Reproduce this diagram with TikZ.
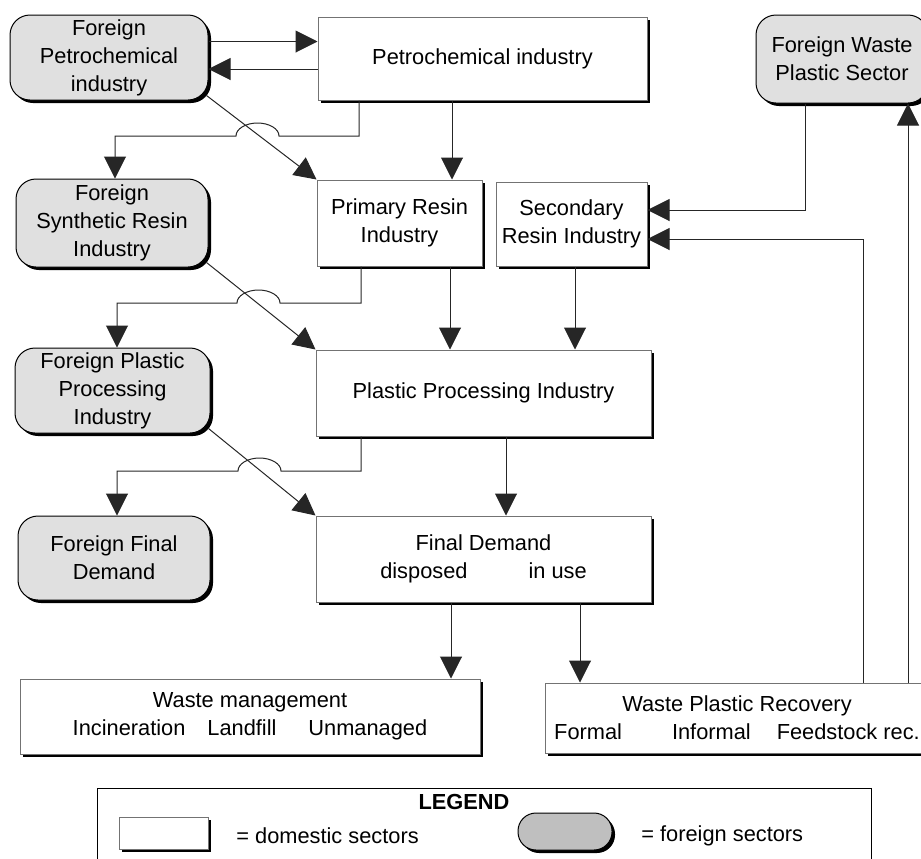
\documentclass[tikz,border=0pt]{standalone}
\usepackage{fontspec}
\setmainfont{Liberation Sans}
\usetikzlibrary{arrows.meta,shadows}

\tikzset{
  dom/.style={draw=black!55, fill=white, line width=0.5pt, align=center, inner sep=0pt,
    drop shadow={shadow xshift=1.5pt, shadow yshift=-1.5pt, fill=black, opacity=1}},
  frn/.style={dom, draw=black, fill=black!12, rounded corners=10pt},
  arr/.style={-{Triangle[length=11pt,width=11pt]}, line width=0.5pt, black!85},
}

\begin{document}
\begin{tikzpicture}[x=0.5pt, y=-0.5pt, every node/.style={font=\fontsize{10.9}{14}\selectfont}]
      \useasboundingbox (0,0) rectangle (921,858);
      % sectors
      \node[frn, minimum width=99pt, minimum height=42.5pt] (fpet) at (109,57.5) {Foreign\\Petrochemical\\industry};
      \node[dom, minimum width=164.5pt, minimum height=41.5pt] (pet) at (482.5,58.5) {Petrochemical industry};
      \node[frn, minimum width=86pt, minimum height=44pt] (fwaste) at (842,59) {Foreign Waste\\Plastic Sector};
      \node[frn, minimum width=96pt, minimum height=44pt] (fres) at (112,223) {Foreign\\Synthetic Resin\\Industry};
      \node[dom, minimum width=82.5pt, minimum height=43pt] (prim) at (399.5,223) {Primary Resin\\Industry};
      \node[dom, minimum width=75.5pt, minimum height=42pt] (sec) at (571.5,224) {Secondary\\Resin Industry};
      \node[frn, minimum width=97.5pt, minimum height=42.5pt] (fproc) at (112.5,390.5) {Foreign Plastic\\Processing\\Industry};
      \node[dom, minimum width=167.5pt, minimum height=43pt] (proc) at (483.5,393) {Plastic Processing Industry};
      \node[frn, minimum width=96pt, minimum height=42pt] (ffin) at (114,558) {Foreign Final\\Demand};
      \node[dom, minimum width=167.5pt, minimum height=43pt] (fin) at (483.5,559) {Final Demand\\disposed\hspace{30.5pt}in use};
      \node[dom, minimum width=230pt, minimum height=37.5pt] (wm) at (250,716.5) {Waste management\\Incineration\hspace{11pt}Landfill\hspace{16pt}Unmanaged};
      \node[dom, minimum width=192pt, minimum height=35pt] (wpr) at (737,718) {Waste Plastic Recovery\\Formal\hspace{25pt}Informal\hspace{13pt}Feedstock rec.};
      % hops
      \coordinate (hopA) at (257.5,136);
      \coordinate (hopB) at (258.5,303);
      \coordinate (hopC) at (259.5,471);
      % flows
      \draw[arr] ([yshift=8pt]fpet.east) coordinate (t1) -- (t1 -| pet.west);
      \draw[arr] ([yshift=-5.25pt]pet.west) coordinate (t2) -- (t2 -| fpet.east);
      \draw[arr] ([xshift=-61.75pt]pet.south) |- ([xshift=10.75pt]hopA)
        arc[start angle=0, end angle=180, x radius=10.75pt, y radius=6.5pt] -| ([xshift=1.5pt]fres.north);
      \draw[arr] ([xshift=-15.25pt]pet.south) coordinate (t3) -- (t3 |- prim.north);
      \draw[arr] ([shift={(-2,-5)}]fpet.south east) -- (prim.north west);
      \draw[arr] ([xshift=-18.5pt]fwaste.south) |- ([yshift=7pt]sec.east);
      \draw[arr] ([xshift=63pt]wpr.north) |- ([yshift=-7.5pt]sec.east);
      \draw[arr] ([xshift=85.5pt]wpr.north) coordinate (t4) -- (t4 |- fwaste.south);
      \draw[arr] ([xshift=-19.25pt]prim.south) |- ([xshift=10.75pt]hopB)
        arc[start angle=0, end angle=180, x radius=10.75pt, y radius=6.5pt] -| ([xshift=2.25pt]fproc.north);
      \draw[arr] ([xshift=25.25pt]prim.south) coordinate (t5) -- (t5 |- proc.north);
      \draw[arr] ([xshift=1.75pt]sec.south) coordinate (t6) -- (t6 |- proc.north);
      \draw[arr] ([shift={(-2,-5)}]fres.south east) -- (proc.north west);
      \draw[arr] ([xshift=-61.25pt]proc.south) |- ([xshift=10.75pt]hopC)
        arc[start angle=0, end angle=180, x radius=10.75pt, y radius=6.5pt] -| ([xshift=1.5pt]ffin.north);
      \draw[arr] ([xshift=11.25pt]proc.south) coordinate (t7) -- (t7 |- fin.north);
      \draw[arr] ([shift={(-2,-5)}]fproc.south east) -- (fin.north west);
      \draw[arr] ([xshift=-16.25pt]fin.south) coordinate (t8) -- (t8 |- wm.north);
      \draw[arr] ([xshift=48.25pt]fin.south) coordinate (t9) -- (t9 |- wpr.north);
      % legend
      \node[draw, line width=0.5pt, minimum width=387pt, minimum height=50pt] (legend) at (484,838) {};
      \node[font=\fontsize{10.9}{14}\selectfont\bfseries] (legtitle) at (464,802) {LEGEND};
      \node[dom, minimum width=44.5pt, minimum height=16pt] (keydom) at (163.5,833) {};
      \node[anchor=west, inner sep=0pt] (keydomtxt) at (236,836) {= domestic sectors};
      \node[frn, fill=black!25, rounded corners=9pt, minimum width=47pt, minimum height=18.5pt] (keyfrn) at (565,831.5) {};
      \node[anchor=west, inner sep=0pt] (keyfrntxt) at (641,836) {= foreign sectors};
    \end{tikzpicture}
\end{document}
